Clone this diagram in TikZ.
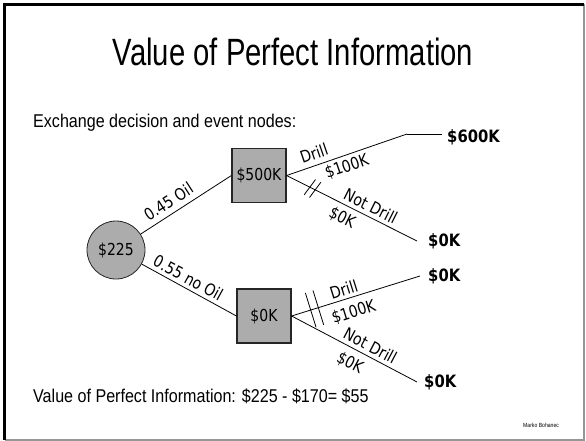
\documentclass[tikz,border=0pt]{standalone}
\usepackage{fontspec}
\setmainfont{Liberation Sans}
\newfontfamily\treefont{DejaVu Sans}
\usetikzlibrary{calc}
\definecolor{nodegray}{RGB}{172,172,172}
\definecolor{framegray}{RGB}{150,150,150}
\newcommand\tz[1]{\scalebox{0.85}[1]{#1}}
\newcommand\tb[1]{\scalebox{0.87}[1]{#1}}
\begin{document}
\begin{tikzpicture}[x=1pt,y=-1pt,
  decision/.style={draw=black!85, line width=1.2pt, fill=nodegray, minimum size=54pt, inner sep=0pt, font=\treefont\fontsize{16.5}{18}\selectfont},
  chance/.style={circle, draw=black!85, line width=0.8pt, fill=nodegray, minimum size=58pt, inner sep=0pt, font=\treefont\fontsize{16.5}{18}\selectfont},
  branch/.style={line width=0.8pt},
  blbl/.style={font=\treefont\fontsize{16.5}{18}\selectfont, sloped, inner sep=3.5pt},
  outcome/.style={font=\treefont\bfseries\fontsize{17}{19}\selectfont, anchor=west, inner ysep=0pt},
  tick/.style={line width=0.8pt},
  slide/.style={inner sep=0pt, font=\fontsize{18.5}{20}\selectfont}
]
\useasboundingbox (0,0) rectangle (586,441);
% frame
\draw[line width=2pt, framegray] (584,4.5) -- (584,439.5) -- (4.5,439.5);
\draw[line width=2.5pt, black] (4.5,439.5) |- (584,4.5);

% texts
\node[anchor=base, inner sep=0pt, font=\fontsize{38}{40}\selectfont] (title) at (293,66) {\scalebox{0.77}[1]{Value of Perfect Information}};
\node[slide, anchor=base west] (sub) at (33,128) {\scalebox{0.87}[1]{Exchange decision and event nodes:}};
\node[slide, anchor=base west] (vpi) at (33,402) {\scalebox{0.87}[1]{Value of Perfect Information: \$225 - \$170= \$55}};
\node[anchor=base west, inner sep=0pt, font=\fontsize{6}{7}\selectfont] (author) at (523,427) {\scalebox{0.85}[1]{Marko Bohanec}};

% tree nodes
\node[chance] (c) at (116,250) {\tz{\$225}};
\node[decision] (b1) at (259,175.5) {\tz{\$500K}};
\node[decision] (b2) at (264,316) {\tz{\$0K}};

\node[outcome, inner xsep=5pt] (t600) at (442,137) {\tb{\$600K}};
\node[outcome, inner xsep=11pt] (t0a) at (417,241) {\tb{\$0K}};
\node[outcome, inner xsep=8pt] (t0b) at (420,276) {\tb{\$0K}};
\node[outcome, inner xsep=7pt] (t0c) at (417,382) {\tb{\$0K}};
\coordinate (k1) at (407,134);

% chance branches
\draw[branch] (c) -- (b1.west) node[blbl, pos=0.38, above, inner sep=5.5pt] {\tz{0.45 Oil}};
\draw[branch] (c) -- (b2.west) node[blbl, pos=0.44, above] {\tz{0.55 no Oil}};

% decision 1 branches
\draw[branch] (b1.east) -- (k1)
  node[blbl, pos=0.26, above, inner sep=5.5pt] {\tz{Drill}}
  node[blbl, pos=0.47, below] {\tz{\$100K}};
\draw[branch] (k1) -- (k1 -| t600.west);
\draw[branch] (b1.east) -- (t0a.west)
  node[blbl, pos=0.61, above] {\tz{Not Drill}}
  node[blbl, pos=0.47, below, inner sep=5pt] {\tz{\$0K}};

% decision 2 branches
\draw[branch] (b2.east) -- (t0b.west)
  node[blbl, pos=0.43, above] {\tz{Drill}}
  node[blbl, pos=0.45, below, inner sep=7pt] {\tz{\$100K}};
\draw[branch] (b2.east) -- (t0c.west)
  node[blbl, pos=0.59, above] {\tz{Not Drill}}
  node[blbl, pos=0.52, below, inner sep=7pt] {\tz{\$0K}};

% blocking marks
\coordinate (m1) at ($(b1.east)!26pt!(t0a.west)$);
\coordinate (m2) at ($(b1.east)!32pt!(t0a.west)$);
\draw[tick] ($(m1)!9.5pt!80:(t0a.west)$) -- ($(m1)!9.5pt!-100:(t0a.west)$);
\draw[tick] ($(m2)!9.5pt!80:(t0a.west)$) -- ($(m2)!9.5pt!-100:(t0a.west)$);
\coordinate (m3) at ($(b2.east)!20pt!(t0b.west)$);
\coordinate (m4) at ($(b2.east)!28pt!(t0b.west)$);
\draw[tick] ($(m3)!18pt!90:(t0b.west)$) -- ($(m3)!18pt!-90:(t0b.west)$);
\draw[tick] ($(m4)!18pt!90:(t0b.west)$) -- ($(m4)!18pt!-90:(t0b.west)$);
\end{tikzpicture}
\end{document}
